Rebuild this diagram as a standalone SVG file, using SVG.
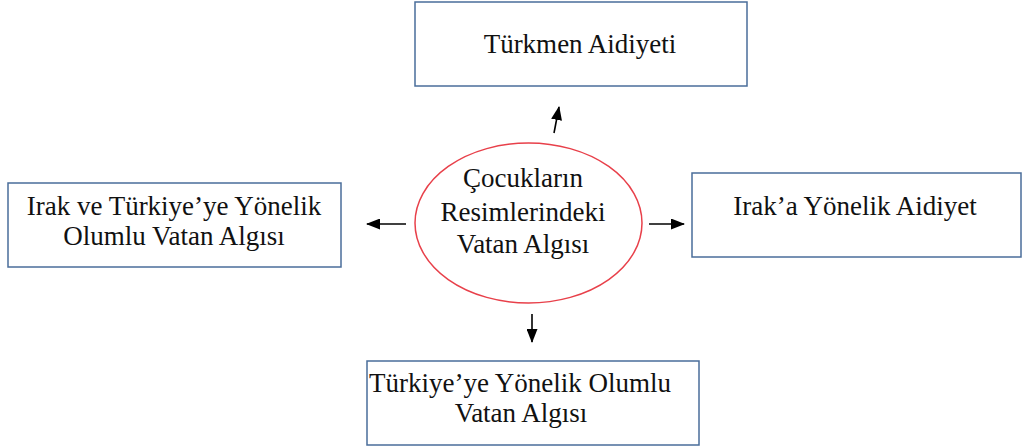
<svg xmlns="http://www.w3.org/2000/svg" width="1024" height="448" viewBox="0 0 1024 448">
<style>
.box{fill:#fff;stroke:#4a6d9a;stroke-width:1.5}
.t{font-family:"Liberation Serif","Times New Roman",serif;font-size:27px;fill:#111}
.c{text-anchor:middle}
.conn{stroke:#000;stroke-width:1.6;fill:none}
</style>
<defs>
<marker id="ah" markerWidth="14" markerHeight="11" refX="13" refY="5.5" orient="auto" markerUnits="userSpaceOnUse">
<path d="M0,0 L14,5.5 L0,11 Z" fill="#000"/>
</marker>
</defs>
<rect width="1024" height="448" fill="#fff"/>
<g id="top">
<rect class="box" x="415" y="2" width="332" height="84"/>
<text class="t c" x="580" y="53">Türkmen Aidiyeti</text>
</g>
<g id="left">
<rect class="box" x="8" y="183" width="333" height="84"/>
<text class="t c" x="174" y="215">Irak ve Türkiye’ye Yönelik</text>
<text class="t c" x="174" y="245">Olumlu Vatan Algısı</text>
</g>
<g id="right">
<rect class="box" x="692" y="173" width="329" height="84"/>
<text class="t c" x="855" y="215">Irak’a Yönelik Aidiyet</text>
</g>
<g id="bottom">
<rect class="box" x="367" y="361" width="332" height="84"/>
<text class="t" x="369" y="392">Türkiye’ye Yönelik Olumlu</text>
<text class="t c" x="521" y="422">Vatan Algısı</text>
</g>
<g id="center">
<ellipse cx="528.5" cy="223" rx="113.5" ry="80" fill="#fff" stroke="#e8404a" stroke-width="1.5"/>
<text class="t c" x="523" y="187">Çocukların</text>
<text class="t c" x="523" y="221">Resimlerindeki</text>
<text class="t c" x="523" y="253">Vatan Algısı</text>
</g>
<g id="connectors">
<line class="conn" x1="554" y1="133" x2="559" y2="107" marker-end="url(#ah)"/>
<line class="conn" x1="406" y1="224" x2="367" y2="224" marker-end="url(#ah)"/>
<line class="conn" x1="649" y1="224" x2="684" y2="224" marker-end="url(#ah)"/>
<line class="conn" x1="532" y1="314" x2="532" y2="342" marker-end="url(#ah)"/>
</g>
</svg>
